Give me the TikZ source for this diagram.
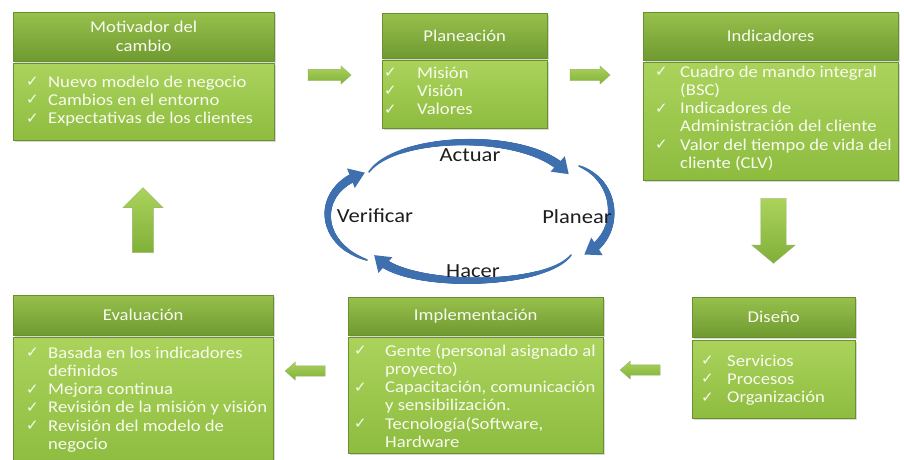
\documentclass[tikz,border=0pt]{standalone}
\usepackage{fontspec}
\setmainfont{Carlito}[FakeStretch=1.13]
\newfontfamily\dejavu{DejaVu Sans}
\usetikzlibrary{shapes.arrows,shadows,arrows.meta,decorations.markings}
\definecolor{hdrtop}{HTML}{97C04C}
\definecolor{hdrbot}{HTML}{6F9A30}
\definecolor{bodytop}{HTML}{ABD35C}
\definecolor{bodybot}{HTML}{8DBC3F}
\definecolor{edge}{HTML}{6A8F2E}
\definecolor{txtw}{HTML}{F8FBEF}
\definecolor{cycblue}{HTML}{3E6FAF}
\definecolor{arrtop}{HTML}{ABD35C}
\definecolor{arrbot}{HTML}{80B038}
\definecolor{lbl}{HTML}{1E1E1E}
\newcommand\ck{\raisebox{0.5pt}{\dejavu\fontsize{15}{15}\selectfont ✓}}
\begin{document}
\begin{tikzpicture}[x=1pt,y=-1pt,
  hdr/.style={rectangle, anchor=north west, inner sep=0pt, top color=hdrtop, bottom color=hdrbot,
    draw=edge, line width=0.4pt, text=txtw, align=center, font=\fontsize{16.5}{19}\selectfont,
    drop shadow={opacity=0.3,shadow xshift=1.5pt,shadow yshift=-1.5pt}},
  bodybox/.style={rectangle, anchor=north west, inner sep=0pt, top color=bodytop, bottom color=bodybot,
    draw=edge, line width=0.4pt,
    drop shadow={opacity=0.3,shadow xshift=1.5pt,shadow yshift=-1.5pt}},
  items/.style={anchor=north west, inner sep=0pt, text=txtw, font=\fontsize{16.5}{18.3}\selectfont},
  blk/.style={single arrow, inner xsep=0pt, top color=arrtop, bottom color=arrbot, draw=edge!70, line width=0.3pt},
  cyc/.style={decoration={markings,
      mark=between positions 0 and -13pt step 0.5pt with {%
        \pgfmathsetmacro\rr{0.8+3.9*(\pgfkeysvalueof{/pgf/decoration/mark info/distance from start}/\pgfdecoratedpathlength)^0.7}%
        \fill[cycblue] (0pt,0pt) circle (\rr pt);},
      mark=at position -7.5pt with {\fill[cycblue] (-7.5pt,-10.5pt) -- (7.5pt,0pt) -- (-7.5pt,10.5pt) -- cycle;}},
    decorate},
  lab/.style={text=lbl, font=\fontsize{20}{22}\selectfont, inner sep=1pt}
]
\useasboundingbox (0,0) rectangle (904,459);
\fill[white] (0,0) rectangle (904,459);

% Motivador del cambio
\node[hdr, minimum width=261pt, minimum height=49pt] (h1) at (13,12) {Motivador del\\cambio};
\node[bodybox, minimum width=261pt, minimum height=77pt] (b1) at (13,63) {};
\node[items] (t1) at (26,74) {\begin{tabular}{@{}p{22pt}@{}l@{}}
\ck & Nuevo modelo de negocio\\
\ck & Cambios en el entorno\\
\ck & Expectativas de los clientes
\end{tabular}};

% Planeacion
\node[hdr, minimum width=165pt, minimum height=45pt] (h2) at (382,13) {Planeación};
\node[bodybox, minimum width=165pt, minimum height=68pt] (b2) at (382,60) {};
\node[items] (t2) at (384,65) {\begin{tabular}{@{}p{33pt}@{}l@{}}
\ck & Misión\\
\ck & Visión\\
\ck & Valores
\end{tabular}};

% Indicadores
\node[hdr, minimum width=255pt, minimum height=48pt] (h3) at (643,12) {Indicadores};
\node[bodybox, minimum width=255pt, minimum height=118pt] (b3) at (643,62) {};
\node[items] (t3) at (655,64) {\begin{tabular}{@{}p{25pt}@{}l@{}}
\ck & Cuadro de mando integral\\
 & (BSC)\\
\ck & Indicadores de\\
 & Administración del cliente\\
\ck & Valor del tiempo de vida del\\
 & cliente (CLV)
\end{tabular}};

% Diseno
\node[hdr, minimum width=163pt, minimum height=40pt] (h4) at (692,297) {Diseño};
\node[bodybox, minimum width=163pt, minimum height=78pt] (b4) at (692,340) {};
\node[items] (t4) at (701,353) {\begin{tabular}{@{}p{26pt}@{}l@{}}
\ck & Servicios\\
\ck & Procesos\\
\ck & Organización
\end{tabular}};

% Implementacion
\node[hdr, minimum width=255pt, minimum height=38pt] (h5) at (348,297) {Implementación};
\node[bodybox, minimum width=255pt, minimum height=116pt] (b5) at (348,337) {};
\node[items] (t5) at (354,343) {\begin{tabular}{@{}p{31pt}@{}l@{}}
\ck & Gente (personal asignado al\\
 & proyecto)\\
\ck & Capacitación, comunicación\\
 & y sensibilización.\\
\ck & Tecnología(Software,\\
 & Hardware
\end{tabular}};

% Evaluacion
\node[hdr, minimum width=260pt, minimum height=40pt] (h6) at (13,295) {Evaluación};
\node[bodybox, minimum width=260pt, minimum height=130pt] (b6) at (13,337) {};
\node[items] (t6) at (26,345) {\begin{tabular}{@{}p{22pt}@{}l@{}}
\ck & Basada en los indicadores\\
 & definidos\\
\ck & Mejora continua\\
\ck & Revisión de la misión y visión\\
\ck & Revisión del modelo de\\
 & negocio
\end{tabular}};

% block arrows
\node[blk, minimum height=43pt, minimum width=18pt, inner ysep=5.5pt, single arrow head extend=3.5pt, single arrow tip angle=84] (a12) at (326.5,75) {};
\node[blk, minimum height=40pt, minimum width=18pt, inner ysep=5.5pt, single arrow head extend=3.5pt, single arrow tip angle=84] (a23) at (587,75) {};
\node[blk, rotate=-90, minimum height=65pt, minimum width=43pt, inner ysep=12.5pt, single arrow head extend=9pt, single arrow tip angle=100] (a34) at (773.5,225.5) {};
\node[blk, rotate=180, minimum height=40pt, minimum width=18pt, inner ysep=5pt, single arrow head extend=4pt, single arrow tip angle=84] (a45) at (643,370) {};
\node[blk, rotate=180, minimum height=40pt, minimum width=18pt, inner ysep=5pt, single arrow head extend=4pt, single arrow tip angle=84] (a56) at (308,371) {};
\node[blk, rotate=90, minimum height=65pt, minimum width=40pt, inner ysep=10.5pt, single arrow head extend=9.5pt, single arrow tip angle=90] (a61) at (143,225.5) {};

% PDCA cycle
\coordinate (ts) at (369,172);  \coordinate (te) at (567,173);
\coordinate (rs) at (579,166);  \coordinate (re) at (584,254);
\coordinate (bs) at (571,255);  \coordinate (be) at (376,256);
\coordinate (ls) at (367,260);  \coordinate (le) at (365,173);
\path[cyc] (ts) .. controls (396,134) and (530,130) .. (te);
\path[cyc] (rs) .. controls (621,182) and (621,238) .. (re);
\path[cyc] (bs) .. controls (545,289) and (400,289) .. (be);
\path[cyc] (ls) .. controls (315,243) and (315,187) .. (le);
\node[lab] (act) at (470,155) {Actuar};
\node[lab] (ver) at (375,216) {Verificar};
\node[lab] (pla) at (577,217) {Planear};
\node[lab] (hac) at (473,271) {Hacer};
\end{tikzpicture}
\end{document}
